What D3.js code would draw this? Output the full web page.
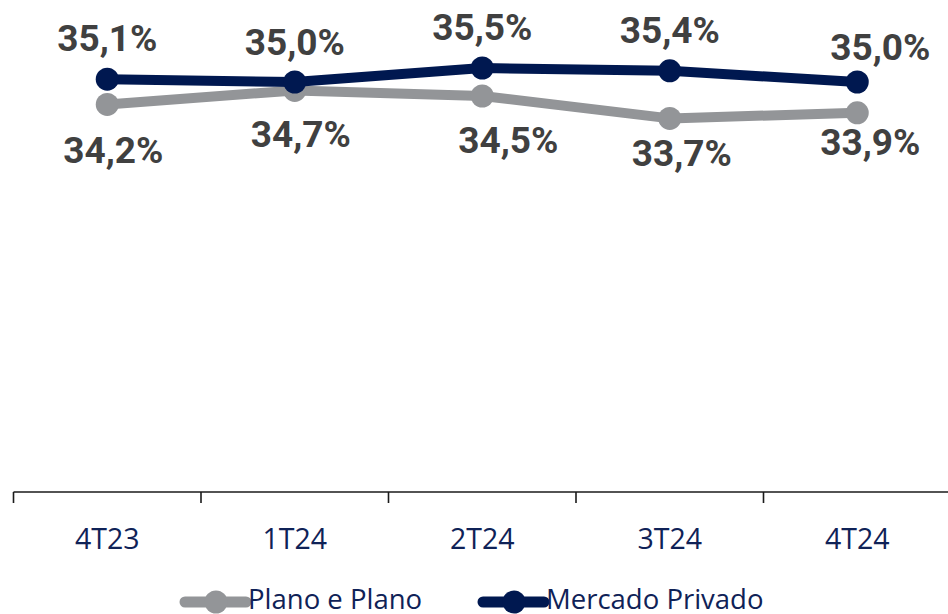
<!DOCTYPE html>
<html>
<head>
<meta charset="utf-8">
<script src="https://cdn.jsdelivr.net/npm/d3@7"></script>
<style>
  html, body { margin: 0; padding: 0; background: #ffffff; }
  svg { display: block; }
</style>
</head>
<body>
<svg id="chart" width="948" height="614"></svg>
<script>
// ---- data ----
const categories = ["4T23", "1T24", "2T24", "3T24", "4T24"];
const planoValues = [34.2, 34.7, 34.5, 33.7, 33.9];
const mercadoValues = [35.1, 35.0, 35.5, 35.4, 35.0];
const seriesNames = ["Plano e Plano", "Mercado Privado"];

// ---- layout (label nudges, px) ----
const planoLabelDx = [6, 6, 26, 12, 13];
const planoLabelDy = [59, 57, 57, 48, 42];
const mercadoLabelDx = [0, 0, 0, 0, 23];
const mercadoLabelDy = [-28, -27, -28, -28, -22];

const W = 948, H = 614;
const svg = d3.select("#chart");

const x = d3.scaleBand().domain(categories).range([13.5, 951]).padding(0);
const y = d3.scaleLinear().domain([20, 37]).range([502, 26]);
const axisY = 492;

const navy = "#001850";
const gray = "#939598";
const labelColor = "#404040";
const axisLabelColor = "#0f2257";

// x axis
const xAxis = d3.axisBottom(x).tickSize(0).tickFormat(d => d);
const gAxis = svg.append("g").attr("transform", `translate(0,${axisY})`).call(xAxis);
gAxis.select(".domain").attr("stroke", "#1a1a1a").attr("stroke-width", 1.6).attr("d", `M13.5,0H${W + 5}`);
gAxis.selectAll(".tick text")
  .attr("y", 57)
  .attr("dy", 0)
  .attr("fill", axisLabelColor)
  .style("font-family", "'Open Sans', sans-serif")
  .style("font-size", "28.5px");
// boundary ticks between categories
const boundaries = categories.map(c => x(c)).concat([x(categories[categories.length - 1]) + x.bandwidth()]);
gAxis.selectAll("line.boundary").data(boundaries).join("line")
  .attr("class", "boundary")
  .attr("x1", d => d).attr("x2", d => d)
  .attr("y1", 0).attr("y2", 11)
  .attr("stroke", "#1a1a1a").attr("stroke-width", 1.6);

const cx = c => x(c) + x.bandwidth() / 2;

function drawSeries(values, color, dxArr, dyArr) {
  const pts = values.map((v, i) => ({ c: categories[i], v, i }));
  const line = d3.line().x(d => cx(d.c)).y(d => y(d.v));
  svg.append("path").datum(pts)
    .attr("d", line)
    .attr("fill", "none")
    .attr("stroke", color)
    .attr("stroke-width", 10)
    .attr("stroke-linejoin", "round");
  svg.append("g").selectAll("circle").data(pts).join("circle")
    .attr("cx", d => cx(d.c)).attr("cy", d => y(d.v))
    .attr("r", 11.5).attr("fill", color);
  svg.append("g").selectAll("text").data(pts).join("text")
    .attr("x", d => cx(d.c) + dxArr[d.i])
    .attr("y", d => y(d.v) + dyArr[d.i])
    .attr("text-anchor", "middle")
    .attr("fill", labelColor)
    .style("font-family", "Roboto, sans-serif")
    .style("font-weight", "700")
    .style("font-size", "37px")
    .text(d => d3.format(".1f")(d.v).replace(".", ",") + "%");
}

drawSeries(planoValues, gray, planoLabelDx, planoLabelDy);
drawSeries(mercadoValues, navy, mercadoLabelDx, mercadoLabelDy);

// legend
const legendItems = [
  { name: seriesNames[0], color: gray, x0: 185 },
  { name: seriesNames[1], color: navy, x0: 483 }
];
const lg = svg.append("g");
legendItems.forEach(it => {
  const g = lg.append("g").attr("transform", `translate(${it.x0},602)`);
  g.append("line").attr("x1", 0).attr("x2", 61).attr("y1", 0).attr("y2", 0)
    .attr("stroke", it.color).attr("stroke-width", 11).attr("stroke-linecap", "round");
  g.append("circle").attr("cx", 31).attr("cy", 0).attr("r", 11.5).attr("fill", it.color);
  g.append("text").attr("x", 63).attr("y", 7)
    .attr("fill", axisLabelColor)
    .style("font-family", "'Open Sans', sans-serif")
    .style("font-size", "27.5px")
    .text(it.name);
});
</script>
</body>
</html>
